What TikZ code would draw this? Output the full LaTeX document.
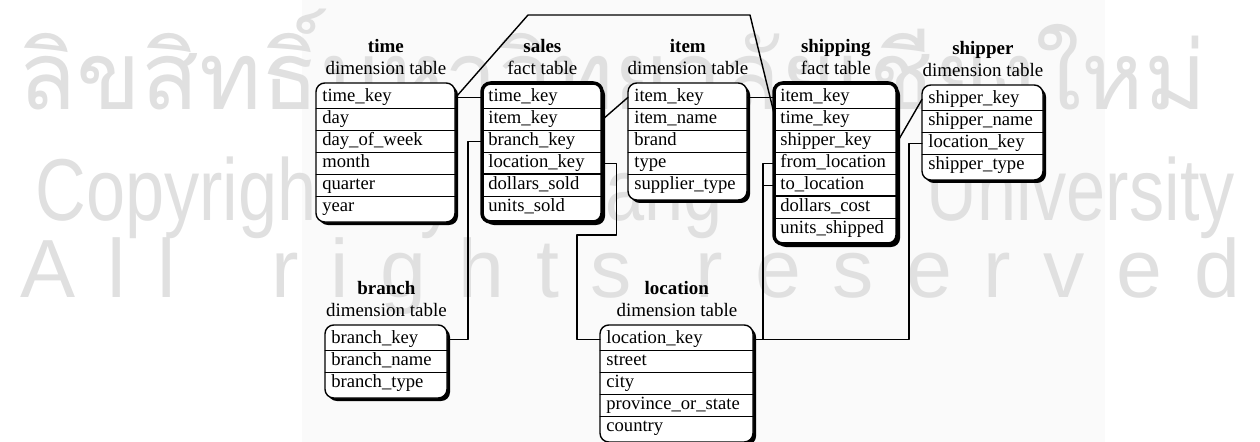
\documentclass[tikz,border=0pt]{standalone}
\usepackage{fontspec}
\setmainfont{Liberation Serif}
\usepackage{tikz}
\usetikzlibrary{positioning}
\newfontfamily\thaifont[Script=Thai]{Loma}
\newfontfamily\wmfont{Liberation Sans}

\newcommand{\startable}[7]{%
  \pgfmathsetmacro{\tabw}{#5*0.02-0.24}
  \pgfmathsetmacro{\tabbot}{#4+7+22*#6}
  \fill[rounded corners=5pt] (#3+3,#4+3) rectangle (#3+#5+3,\tabbot+3);
  \fill[white,rounded corners=5pt] (#3,#4) rectangle (#3+#5,\tabbot);
  \foreach \f [count=\i] in {#7}
    \node[fieldrow,text width=\tabw cm] (#1-\i) at (#3,#4+3+22*\i-22) {\f};
  \foreach \i in {2,...,#6}
    \draw[rowline] (#1-\i.north west) -- (#1-\i.north east);
  \draw[#2 border,rounded corners=5pt] (#3,#4) rectangle (#3+#5,\tabbot);
  \node[tabletitle,above=0.22cm of #1-1] (#1-title) {\textbf{#1}\\#2 table};
}

\begin{document}
\begin{tikzpicture}[line cap=round,line join=round,x=0.02cm,y=-0.02cm,
  fieldrow/.style={anchor=north west,inner xsep=0.12cm,inner ysep=0pt,minimum height=0.44cm,
    text height=7pt,text depth=2.2pt,align=left,font=\fontsize{10.6}{12}\selectfont},
  tabletitle/.style={inner sep=0pt,align=center,font=\fontsize{10.8}{12.5}\selectfont},
  rowline/.style={line width=0.5pt},
  keyline/.style={line width=1.3pt},
  dimension border/.style={line width=0.8pt},
  fact border/.style={line width=2pt},
  link/.style={line width=0.8pt},
  watermark/.style={anchor=base west,inner sep=0pt,text=black!12}]
\useasboundingbox (0,0) rectangle (1260,442);
\clip (0,0) rectangle (1260,442);
\fill[black!2] (302,0) rectangle (1105,442);
\node[watermark] (wm-thai) at (18,110) {\thaifont\fontsize{54}{56}\selectfont ลิขสิทธิ์มหาวิทยาลัยเชียงใหม่};
\node[watermark,xscale=0.8] (wm-copy) at (35,220) {\wmfont\fontsize{50}{52}\selectfont\makebox[30cm][s]{Copyright by Chiang Mai University}};
\node[watermark] (wm-all) at (20,297) {\wmfont\fontsize{47}{50}\selectfont\makebox[24.4cm][s]{A l l\ \ \ r i g h t s\ \ r e s e r v e d}};

\startable{time}{dimension}{316}{83}{139}{6}{time\_key,day,day\_of\_week,month,quarter,year}
\startable{sales}{fact}{482}{83}{120}{6}{time\_key,item\_key,branch\_key,location\_key,dollars\_sold,units\_sold}
\startable{item}{dimension}{628}{83}{119}{5}{item\_key,item\_name,brand,type,supplier\_type}
\startable{shipping}{fact}{774}{83}{123}{7}{item\_key,time\_key,shipper\_key,from\_location,to\_location,dollars\_cost,units\_shipped}
\startable{shipper}{dimension}{922}{85}{121}{4}{shipper\_key,shipper\_name,location\_key,shipper\_type}
\startable{branch}{dimension}{325}{325}{122}{3}{branch\_key,branch\_name,branch\_type}
\startable{location}{dimension}{600}{325}{153}{5}{location\_key,street,city,province\_or\_state,country}
\draw[keyline] (sales-5.north west) -- (sales-5.north east);
\draw[keyline] (shipping-6.north west) -- (shipping-6.north east);

\draw[link] (time-1.east) -- (sales-1.west);
\draw[link] (time-1.east) -- (528,15) -- (750,15) -- ([yshift=-3pt]shipping-2.north west);
\draw[link] (sales-2.east) -- (item-1.west);
\draw[link] (item-1.east) -- (shipping-1.west);
\draw[link] (shipping-3.east) -- (shipper-1.west);
\draw[link] (sales-3.west) -- ++(-14,0) |- (branch-1.east);
\draw[link] (sales-4.east) -- ++(14,0) |- (577,235) |- (location-1.west);
\draw[link] (shipping-4.west) -- ++(-11,0) coordinate (fromloc) |- (location-1.east);
\draw[link] (shipping-5.west) -- (shipping-5.west -| fromloc);
\draw[link] (shipper-3.west) -- ++(-13,0) |- (location-1.east);
\end{tikzpicture}
\end{document}
